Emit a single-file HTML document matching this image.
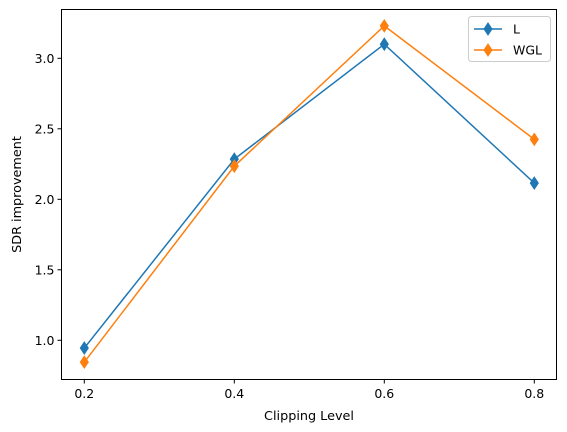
<!DOCTYPE html>
<html><head><meta charset="utf-8"><style>
body{margin:0;background:#fff;}
svg{display:block;font-family:"DejaVu Sans","Liberation Sans",sans-serif;}
</style></head><body>
<svg id="chart" width="567" height="432" xmlns="http://www.w3.org/2000/svg"></svg>
<script>
const categories=[0.2,0.4,0.6,0.8];
const seriesL=[0.945,2.285,3.10,2.115];
const seriesWGL=[0.845,2.235,3.23,2.425];
const xTicks=["0.2","0.4","0.6","0.8"];
const yTicks=[1.0,1.5,2.0,2.5,3.0];
const yTickLabels=["1.0","1.5","2.0","2.5","3.0"];

const svg=document.getElementById('chart');
const NS="http://www.w3.org/2000/svg";
const L=61.5,R=556.5,T=9.5,B=379.5;
const xs=v=>84.3+(v-0.2)*750;
const ys=v=>340.3-(v-1.0)*141;
function mk(tag,attrs,parent){const e=document.createElementNS(NS,tag);for(const k in attrs)e.setAttribute(k,attrs[k]);(parent||svg).appendChild(e);return e;}

const frame=mk('rect',{x:L,y:T,width:R-L,height:B-T,fill:'none',stroke:'#000','stroke-width':1});



xTicks.forEach((t,i)=>{const x=xs(categories[i]);
 const l=mk('line',{x1:x,x2:x,y1:B,y2:B+4,stroke:'#000'});
 
 
 const tx=mk('text',{x:x,y:B+18.5,'text-anchor':'middle','font-size':12.5,fill:'#000'});tx.textContent=t;
 
 
});
yTicks.forEach((v,i)=>{const y=ys(v);
 const l=mk('line',{x1:L-4,x2:L,y1:y,y2:y,stroke:'#000'});
 
 
 const tx=mk('text',{x:L-7,y:y+4.5,'text-anchor':'end','font-size':12.5,fill:'#000'});tx.textContent=yTickLabels[i];
 
 
});
const xt=mk('text',{x:309,y:420,'text-anchor':'middle','font-size':12.8});xt.textContent='Clipping Level';


const yt=mk('text',{x:21,y:(T+B)/2,'text-anchor':'middle','font-size':12.8,transform:`rotate(-90 21 ${(T+B)/2})`});yt.textContent='SDR improvement';



function diamond(x,y,c,parent){const p=mk('polygon',{points:`${x},${y-6} ${x+4},${y} ${x},${y+6} ${x-4},${y}`,fill:c,stroke:c},parent);return p;}
function series(vals,c,name){
 const g=mk('g',{});
 
 
 mk('polyline',{points:vals.map((v,i)=>xs(categories[i])+','+ys(v)).join(' '),fill:'none',stroke:c,'stroke-width':1.5},g);
 vals.forEach((v,i)=>{const d=diamond(xs(categories[i]),ys(v),c,g);
  
  });
}
series(seriesL,'#1f77b4','series-l');
series(seriesWGL,'#ff7f0e','series-wgl');

const lg=mk('g',{});


mk('rect',{x:468.5,y:16.5,width:82,height:45,rx:3,fill:'#fff',stroke:'#ccc'},lg);
[['L','#1f77b4',29],['WGL','#ff7f0e',50]].forEach(([n,c,y])=>{
 const e=mk('g',{},lg);
 
 
 mk('line',{x1:474,x2:502,y1:y,y2:y,stroke:c,'stroke-width':1.5},e);
 diamond(488,y,c,e);
 const t=mk('text',{x:513,y:y+4.5,'font-size':12.5},e);t.textContent=n;
});
</script>
</body></html>
